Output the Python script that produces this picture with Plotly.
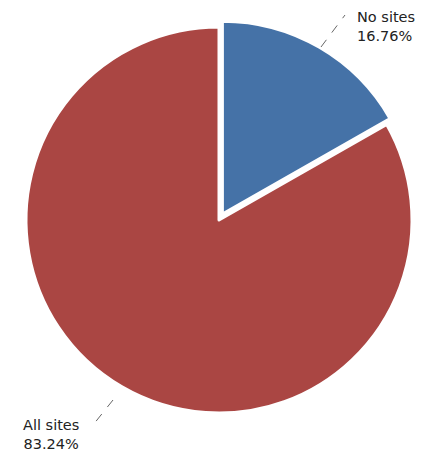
import plotly.graph_objects as go

labels = ["No sites", "All sites"]
values = [16.76, 83.24]
colors = ["#4572A7", "#AA4643"]
pulls = [0.035, 0]

W, H = 429, 454

def px(x):
    return x / W

def py(y):
    return 1 - y / H

cx, cy, r = 219, 220, 193
half = r * (1 + max(pulls))

fig = go.Figure(go.Pie(
    labels=labels,
    values=values,
    marker=dict(colors=colors, line=dict(color="white", width=3)),
    pull=pulls,
    sort=False,
    direction="clockwise",
    rotation=0,
    textinfo="none",
    hoverinfo="label+percent",
    domain=dict(x=[px(cx - half), px(cx + half)], y=[py(cy + half), py(cy - half)]),
    showlegend=False,
))

font = dict(family="DejaVu Sans", size=14.5, color="#222222")

# label placements (pixel positions of label block centres)
label_pos = {
    "No sites": dict(x=355, y=26, anchor="left", align="left"),
    "All sites": dict(x=51, y=434, anchor="center", align="center"),
}
leaders = {
    "No sites": (321, 47, 345, 15),
    "All sites": (113, 400, 93, 425),
}

annotations = []
shapes = []
for lab, val in zip(labels, values):
    p = label_pos[lab]
    annotations.append(dict(x=px(p["x"]), y=py(p["y"]), xref="paper", yref="paper",
                            text=f"{lab}<br>{val:.2f}%", showarrow=False,
                            xanchor=p["anchor"], yanchor="middle", align=p["align"],
                            font=font))
    x0, y0, x1, y1 = leaders[lab]
    shapes.append(dict(type="line", xref="paper", yref="paper",
                       x0=px(x0), y0=py(y0), x1=px(x1), y1=py(y1),
                       line=dict(color="#666666", width=1, dash="dash")))

fig.update_layout(
    width=W, height=H,
    margin=dict(l=0, r=0, t=0, b=0),
    paper_bgcolor="white",
    plot_bgcolor="white",
    annotations=annotations,
    shapes=shapes,
)

fig.write_html("out.html",
               config={"displayModeBar": False},
               post_script="document.body.style.margin='0';document.body.style.overflow='hidden';")
